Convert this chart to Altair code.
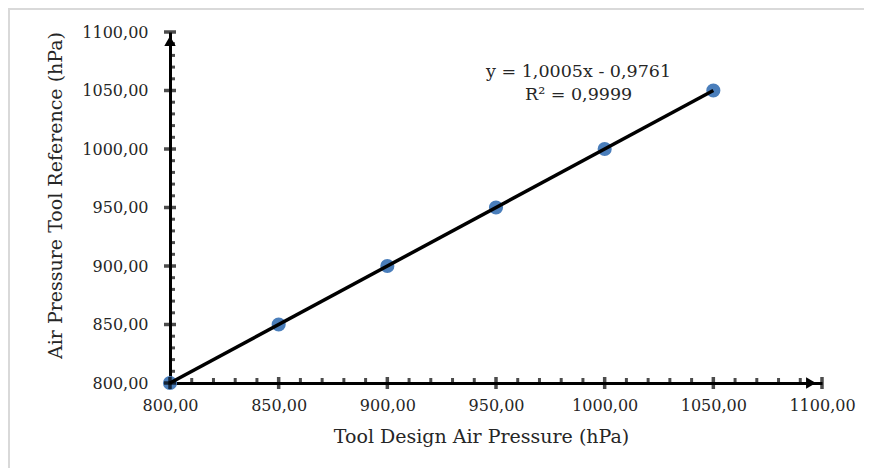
import altair as alt
import pandas as pd

# Data
design = [800, 850, 900, 950, 1000, 1050]
reference = [800, 850, 900, 950, 1000, 1050]
major_ticks = [800, 850, 900, 950, 1000, 1050, 1100]
minor_ticks = [810, 820, 830, 840, 860, 870, 880, 890, 910, 920, 930, 940,
               960, 970, 980, 990, 1010, 1020, 1030, 1040, 1060, 1070, 1080, 1090]
equation = ["y = 1,0005x  - 0,9761", "R\u00b2 = 0,9999"]

df = pd.DataFrame({"x": design, "y": reference})
df_major = pd.DataFrame({"v": major_ticks, "base": [800] * len(major_ticks)})
df_minor = pd.DataFrame({"v": minor_ticks, "base": [800] * len(minor_ticks)})

FONT = "DejaVu Serif"
W, H = 652, 351
label_expr = "replace(format(datum.value, '.2f'), '.', ',')"

xscale = alt.Scale(domain=[800, 1100], nice=False, zero=False)
yscale = alt.Scale(domain=[800, 1100], nice=False, zero=False)

xaxis = alt.Axis(values=major_ticks, labelExpr=label_expr, grid=False, ticks=False, tickSize=0,
                 labelFlush=False, labelOverlap=False,
                 domainColor="black", domainWidth=3, labelFont=FONT, labelFontSize=16,
                 labelColor="#262626", labelPadding=14, title="Tool Design Air Pressure (hPa)",
                 titleFont=FONT, titleFontSize=19, titleFontWeight="normal", titleColor="#262626",
                 titlePadding=14, titleX=311)
yaxis = alt.Axis(values=major_ticks, labelExpr=label_expr, grid=False, ticks=False, tickSize=0,
                 labelFlush=False, labelOverlap=False,
                 domainColor="black", domainWidth=3, labelFont=FONT, labelFontSize=16,
                 labelColor="#262626", labelPadding=22, title="Air Pressure Tool Reference  (hPa)",
                 titleFont=FONT, titleFontSize=19, titleFontWeight="normal", titleColor="#262626",
                 titlePadding=16, titleY=163)

points = alt.Chart(df).mark_circle(size=200, color="#4a7ebb", opacity=1).encode(
    x=alt.X("x:Q", scale=xscale, axis=xaxis),
    y=alt.Y("y:Q", scale=yscale, axis=yaxis),
)

trend = alt.Chart(df).transform_regression("x", "y", method="linear").mark_line(
    color="black", strokeWidth=3.5
).encode(x=alt.X("x:Q", scale=xscale), y=alt.Y("y:Q", scale=yscale))

# axis decorations
x_major = alt.Chart(df_major).mark_tick(orient="vertical", color="black", thickness=3.5, size=12).encode(
    x=alt.X("v:Q", scale=xscale), y=alt.Y("base:Q", scale=yscale))
y_major = alt.Chart(df_major).mark_tick(orient="horizontal", color="black", thickness=3.5, size=12).encode(
    y=alt.Y("v:Q", scale=yscale), x=alt.X("base:Q", scale=xscale))
x_minor = alt.Chart(df_minor).mark_tick(orient="vertical", color="black", thickness=3, size=6, yOffset=-2).encode(
    x=alt.X("v:Q", scale=xscale), y=alt.Y("base:Q", scale=yscale))
y_minor = alt.Chart(df_minor).mark_tick(orient="horizontal", color="black", thickness=3, size=6, xOffset=2).encode(
    y=alt.Y("v:Q", scale=yscale), x=alt.X("base:Q", scale=xscale))

arrow_x = alt.Chart(df_major.tail(1)).mark_point(shape="triangle-right", filled=True, color="black",
                                                 size=130, opacity=1, xOffset=-11).encode(
    x=alt.X("v:Q", scale=xscale), y=alt.Y("base:Q", scale=yscale))
arrow_y = alt.Chart(df_major.tail(1)).mark_point(shape="triangle-up", filled=True, color="black",
                                                 size=130, opacity=1, yOffset=9).encode(
    y=alt.Y("v:Q", scale=yscale), x=alt.X("base:Q", scale=xscale))

eq = alt.Chart(pd.DataFrame({"t": [equation], "x": [988], "y": [1066]})).mark_text(
    font=FONT, fontSize=17.5, color="#262626", align="center", baseline="middle", lineHeight=23
).encode(x=alt.X("x:Q", scale=xscale), y=alt.Y("y:Q", scale=yscale), text="t")

# light grey frame (top and left edges)
frame_left = alt.Chart(df.head(1)).mark_rule(color="#d9d9d9", strokeWidth=2).encode(
    x=alt.value(-161), x2=alt.value(-161), y=alt.value(-24), y2=alt.value(H + 85))
frame_top = alt.Chart(df.head(1)).mark_rule(color="#d9d9d9", strokeWidth=2).encode(
    x=alt.value(-162), x2=alt.value(W + 42), y=alt.value(-23), y2=alt.value(-23))

chart = alt.layer(frame_left, frame_top, points, trend, x_minor, y_minor, x_major, y_major,
                  arrow_x, arrow_y, eq).properties(
    width=W, height=H,
    background="white",
    padding={"left": 162, "top": 24, "right": 42, "bottom": 85},
    autosize=alt.AutoSizeParams(type="none"),
).configure_view(strokeWidth=0, stroke="transparent")

chart.save("out.html", embed_options={"renderer": "svg", "actions": False})
